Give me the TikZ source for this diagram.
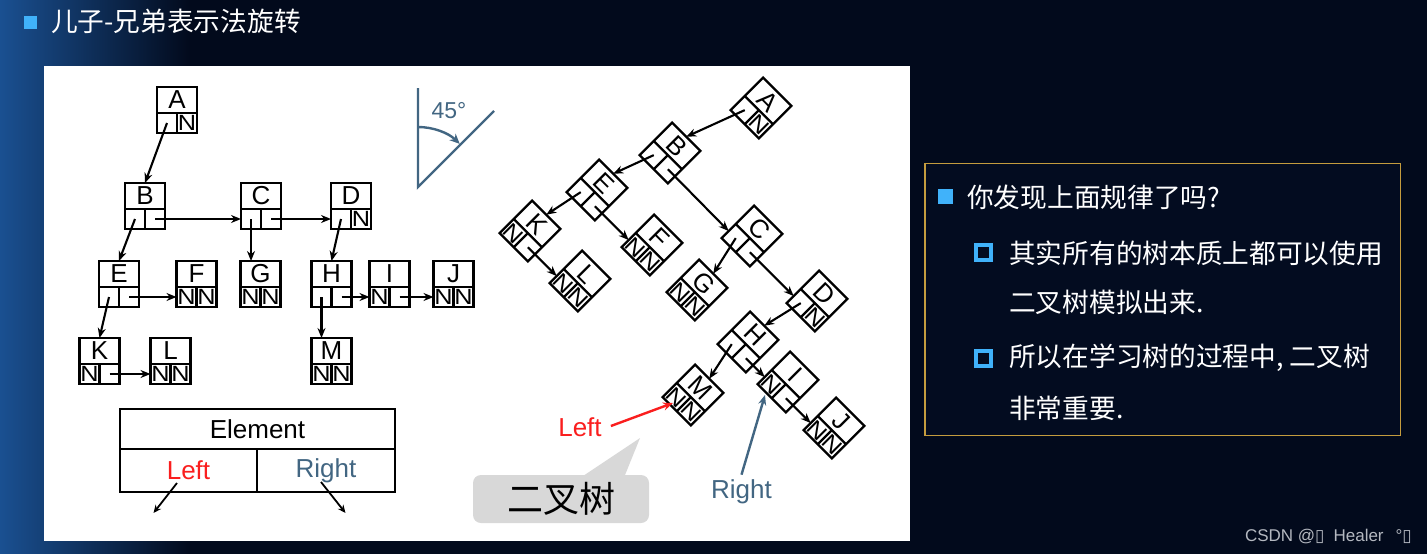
\documentclass[tikz,border=0pt]{standalone}
\usepackage{fontspec}
\setmainfont{Liberation Sans}
\newfontfamily\cjkfont{Noto Sans CJK SC}
\newfontfamily\symfont{DejaVu Sans}
\usetikzlibrary{arrows.meta}
\definecolor{navy}{RGB}{2,10,28}
\definecolor{panelnavy}{RGB}{3,12,32}
\definecolor{bgblue}{RGB}{26,80,145}
\definecolor{bulletblue}{RGB}{64,178,250}
\definecolor{steel}{RGB}{66,102,130}
\definecolor{gold}{RGB}{196,156,62}
\definecolor{bubblegray}{RGB}{216,216,216}
\definecolor{labred}{RGB}{250,30,30}
\definecolor{wmgray}{RGB}{180,184,192}
\tikzset{
  boxframe/.style={draw, line width=2.3pt, minimum width=40pt, minimum height=46pt, inner sep=0pt, outer sep=0pt},
  letter/.style={font=\fontsize{26}{26}\selectfont, inner sep=0pt},
  nullmark/.style={font=\fontsize{22}{22}\selectfont, inner sep=0pt, xscale=1.15},
  ptr/.style={line width=2.1pt, -{Stealth[length=10pt,width=8pt]}},
  thinptr/.style={line width=1.8pt, -{Stealth[length=8pt,width=7pt]}},
  lbl/.style={font=\fontsize{26}{26}\selectfont, inner sep=0pt},
  cjktext/.style={anchor=west, text=white, inner sep=0pt, font=\cjkfont\fontsize{26.7}{30}\selectfont},
}
\newcommand{\tbox}[7]{%
  \begin{scope}[shift={(#2,-#3)}, rotate=#4, transform shape]
    \node[boxframe] (#1) at (0,0) {};
    \draw[line width=2.3pt] (-20,-3) -- (20,-3) (0,-3) -- (0,-23);
    \node[letter] (#1-t) at (0,10) {#5};
    \node[nullmark] (#1-nl) at (-10,-13) {#6};
    \node[nullmark] (#1-nr) at (10,-13) {#7};
    \coordinate (#1-l) at (-10,-13);
    \coordinate (#1-r) at (10,-13);
    \coordinate (#1-w) at (-20,-13);
  \end{scope}}
\begin{document}
\begin{tikzpicture}[x=1pt,y=1pt]
\useasboundingbox (0,0) rectangle (1427,-554);
% background
\fill[navy] (0,0) rectangle (1427,-554);
\shade[left color=bgblue, right color=navy] (0,0) rectangle (190,-554);
% title
\fill[bulletblue] (23.5,-16) rectangle (36.5,-29);
\node[cjktext] (title) at (51,-21) {儿子-兄弟表示法旋转};
% white panel
\fill[white] (44,-66) rectangle (910,-541);

% ---------- left tree ----------
\tbox{A}{177}{110}{0}{A}{}{N}
\tbox{B}{145}{206}{0}{B}{}{}
\tbox{C}{261}{206}{0}{C}{}{}
\tbox{D}{351}{206}{0}{D}{}{N}
\tbox{E}{119}{284}{0}{E}{}{}
\tbox{F}{196.5}{284}{0}{F}{N}{N}
\tbox{G}{260.5}{284}{0}{G}{N}{N}
\tbox{H}{331.5}{284}{0}{H}{}{}
\tbox{I}{389.5}{284}{0}{I}{N}{}
\tbox{J}{453.5}{284}{0}{J}{N}{N}
\tbox{K}{99.5}{361}{0}{K}{N}{}
\tbox{L}{170.5}{361}{0}{L}{N}{N}
\tbox{M}{331.5}{361}{0}{M}{N}{N}
\draw[ptr] (A-l) -- (B.north);
\draw[ptr] (B-l) -- (E.north);
\draw[ptr] (B-r) -- (C-w);
\draw[ptr] (C-l) -- (C-l |- G.north);
\draw[ptr] (C-r) -- (D-w);
\draw[ptr] (D-l) -- (H.north);
\draw[ptr] (E-l) -- (K.north);
\draw[ptr] (E-r) -- (F-w);
\draw[ptr] (H-l) -- (H-l |- M.north);
\draw[ptr] (H-r) -- (I-w);
\draw[ptr] (I-r) -- (J-w);
\draw[ptr] (K-r) -- (L-w);

% ---------- 45 degree sign ----------
\coordinate (ang-top) at (418,-88);
\coordinate (ang-o) at (418,-187);
\coordinate (ang-end) at (494,-111);
\draw[steel, line width=2.4pt] (ang-top) -- (ang-o) -- (ang-end);
\draw[steel, line width=2.4pt, -{Stealth[length=10pt,width=9pt]}] (418,-127) arc[start angle=90, end angle=46, radius=60];
\node[text=steel, font=\fontsize{23}{23}\selectfont, inner sep=0pt] (ang-t) at (449,-111) {45°};

% ---------- Element table ----------
\node[draw, line width=2.2pt, minimum width=275pt, minimum height=40pt, inner sep=0pt, font=\fontsize{26}{26}\selectfont] (elem) at (257.5,-429) {Element};
\node[draw, line width=2.2pt, minimum width=137pt, minimum height=43pt, inner sep=0pt, text=labred, font=\fontsize{26}{26}\selectfont] (eleft) at (188.5,-470.5) {Left};
\node[draw, line width=2.2pt, minimum width=138pt, minimum height=43pt, inner sep=0pt, text=steel, font=\fontsize{26}{26}\selectfont] (eright) at (326,-470.5) {Right};
\coordinate (el-s) at (177,-483);
\coordinate (el-e) at (153.5,-513);
\coordinate (er-s) at (321,-482);
\coordinate (er-e) at (345.5,-513);
\draw[thinptr] (el-s) -- (el-e);
\draw[thinptr] (er-s) -- (er-e);

% ---------- rotated binary tree ----------
\tbox{rA}{761}{108}{-45}{A}{}{N}
\tbox{rB}{670}{153}{-45}{B}{}{}
\tbox{rC}{752}{236}{-45}{C}{}{}
\tbox{rD}{817}{301}{-45}{D}{}{N}
\tbox{rE}{597}{190}{-45}{E}{}{}
\tbox{rF}{652}{245}{-45}{F}{N}{N}
\tbox{rK}{530}{231}{-45}{K}{N}{}
\tbox{rL}{580}{281}{-45}{L}{N}{N}
\tbox{rG}{697}{290}{-45}{G}{N}{N}
\tbox{rH}{748}{342}{-45}{H}{}{}
\tbox{rI}{788}{382}{-45}{I}{N}{}
\tbox{rJ}{834}{428}{-45}{J}{N}{N}
\tbox{rM}{693}{395}{-45}{M}{N}{N}
\draw[ptr] (rA-l) -- (rB.north);
\draw[ptr] (rB-l) -- (rE.north);
\draw[ptr] (rB-r) -- (rC-w);
\draw[ptr] (rE-l) -- (rK.north);
\draw[ptr] (rE-r) -- (rF-w);
\draw[ptr] (rK-r) -- (rL-w);
\draw[ptr] (rC-l) -- (rG.north);
\draw[ptr] (rC-r) -- (rD-w);
\draw[ptr] (rD-l) -- (rH.north);
\draw[ptr] (rH-l) -- (rM.north);
\draw[ptr] (rH-r) -- (rI-w);
\draw[ptr] (rI-r) -- (rJ-w);

% labels Left / Right
\node[lbl, text=labred] (lab-left) at (580,-427) {Left};
\coordinate (left-tip) at (673,-403);
\draw[labred, line width=2.4pt, -{Stealth[length=10pt,width=8pt]}] ([xshift=9pt,yshift=1pt]lab-left.east) -- (left-tip);
\node[lbl, text=steel] (lab-right) at (741.5,-492) {Right};
\coordinate (right-tip) at (765,-395);
\draw[steel, line width=2.4pt, -{Stealth[length=10pt,width=8pt]}] ([yshift=5pt]lab-right.north) -- (right-tip);

% speech bubble
\coordinate (tail-tip) at (640,-438);
\fill[bubblegray] (577,-480) -- (tail-tip) -- (623,-480) -- cycle;
\node[fill=bubblegray, rounded corners=8pt, minimum width=176pt, minimum height=48pt, inner sep=0pt, font=\cjkfont\fontsize{36}{36}\selectfont] (bubble) at (561,-499) {二叉树};

% ---------- right panel ----------
\node[draw=gold, line width=1.5pt, fill=panelnavy, minimum width=475.5pt, minimum height=272pt, inner sep=0pt] (rpanel) at (1162.75,-299.5) {};
\fill[bulletblue] (938,-188.5) rectangle (953,-203.5);
\node[cjktext] (q1) at (967,-197) {你发现上面规律了吗?};
\draw[bulletblue, line width=3.8pt] (976,-245) rectangle (991,-260);
\node[cjktext] (q2a) at (1009,-253) {其实所有的树本质上都可以使用};
\node[cjktext] (q2b) at (1009,-302) {二叉树模拟出来.};
\draw[bulletblue, line width=3.8pt] (976,-351) rectangle (991,-366);
\node[cjktext] (q3a) at (1009,-358) {所以在学习树的过程中, 二叉树};
\node[cjktext] (q3b) at (1009,-408) {非常重要.};

% watermark
\node[anchor=east, text=wmgray, inner sep=0pt, font=\fontsize{17}{17}\selectfont] (wm) at (1412,-537) {CSDN @{\symfont ▯}\hspace{9pt}Healer\hspace{12pt}°{\symfont ▯}};
\end{tikzpicture}
\end{document}
